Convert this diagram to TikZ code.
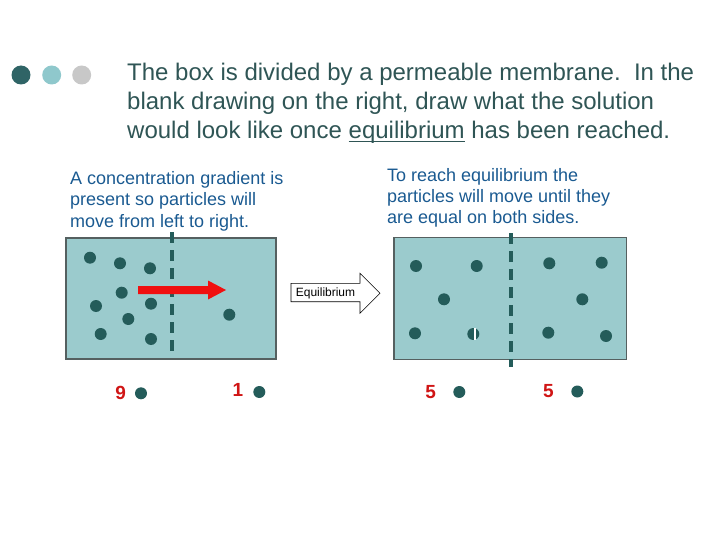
\documentclass[tikz,border=0pt]{standalone}
\usepackage{fontspec}
\setmainfont{Liberation Sans}
\definecolor{titlecol}{HTML}{2F5555}
\definecolor{bodyblue}{HTML}{1A5A91}
\definecolor{boxfill}{HTML}{9BCBCD}
\definecolor{particle}{HTML}{245C5A}
\definecolor{boxline}{HTML}{556060}
\definecolor{dotdark}{HTML}{2F6466}
\definecolor{dotteal}{HTML}{8FC8CC}
\definecolor{dotgray}{HTML}{C8C8C8}
\definecolor{numred}{HTML}{D01515}
\definecolor{arrowred}{HTML}{F01010}
\newcommand\myul[1]{\setbox0\hbox{#1}\rlap{\rule[-3pt]{\wd0}{1.2pt}}\box0\relax}
\begin{document}
\begin{tikzpicture}[x=1pt,y=-1pt,
  tank/.style={draw=boxline,line width=1.3pt,fill=boxfill},
  membrane/.style={draw=particle,line width=4pt,dash pattern=on 11pt off 7pt},
  part/.style={circle,fill=particle,inner sep=0pt,minimum size=12pt},
  bodytext/.style={anchor=base west,inner sep=0pt,align=left,text=bodyblue,font=\fontsize{18}{21.5}\selectfont},
  count/.style={anchor=center,inner sep=0pt,text=numred,font=\fontsize{19}{22}\selectfont\bfseries}]
\useasboundingbox (0,0) rectangle (720,540);
% header dots
\fill[dotdark] (21,75) circle (9.5);
\fill[dotteal] (51.7,75) circle (9.5);
\fill[dotgray] (81.7,75) circle (9.5);
% title (anchor at baseline of last line)
\node[anchor=base west,inner sep=0pt,align=left,text=titlecol,font=\fontsize{24}{29}\selectfont] (title) at (127,139)
  {The box is divided by a permeable membrane.\ \ In the\\blank drawing on the right, draw what the solution\\would look like once \myul{equilibrium} has been reached.};
% captions
\node[bodytext] (lefttext) at (70,227) {A concentration gradient is\\present so particles will\\move from left to right.};
\node[bodytext] (righttext) at (387,224) {To reach equilibrium the\\particles will move until they\\are equal on both sides.};
% left box
\draw[tank] (66,238) rectangle (276,359);
\draw[membrane] (172,232) -- (172,357);
\foreach \px/\py [count=\i] in {90/257.7,120/263.3,150/268.3,121.7/292.7,96/306,151/303.7,128.3/319,100.7/334,151/339,229.3/314.7}
  \node[part] (L\i) at (\px,\py) {};
% red arrow
\fill[arrowred] (138,286) -- (208,286) -- (208,280.5) -- (226,290) -- (208,299.5) -- (208,294) -- (138,294) -- cycle;
% right box
\draw[tank] (394,237.3) rectangle (626.5,359.3);
\draw[membrane] (510.7,233) -- (510.7,367);
\foreach \px/\py [count=\i] in {416/266,476.7/266,444/299.3,415/333.3,473.3/334,549.3/263.3,601.7/262.7,582.3/299.3,548.3/332.7,606/336}
  \node[part] (R\i) at (\px,\py) {};
\draw[white,line width=1.1pt] (475,328) -- (475,340);
% equilibrium arrow
\draw[black,line width=0.6pt,fill=white] (291,283.3) -- (360,283.3) -- (360,273.3) -- (380,293.3) -- (360,313.3) -- (360,301.7) -- (291,301.7) -- cycle;
\node[inner sep=0pt,font=\fontsize{12}{14}\selectfont] (eqlabel) at (325.5,293) {Equilibrium};
% counts
\node[count] (n1) at (120.7,393) {9};
\node[part] (d1) at (141,393.3) {};
\node[count] (n2) at (238,390) {1};
\node[part] (d2) at (259.3,392) {};
\node[count] (n3) at (430.7,392) {5};
\node[part] (d3) at (459.3,392) {};
\node[count] (n4) at (548.3,391.5) {5};
\node[part] (d4) at (577.3,391.5) {};
\end{tikzpicture}
\end{document}
